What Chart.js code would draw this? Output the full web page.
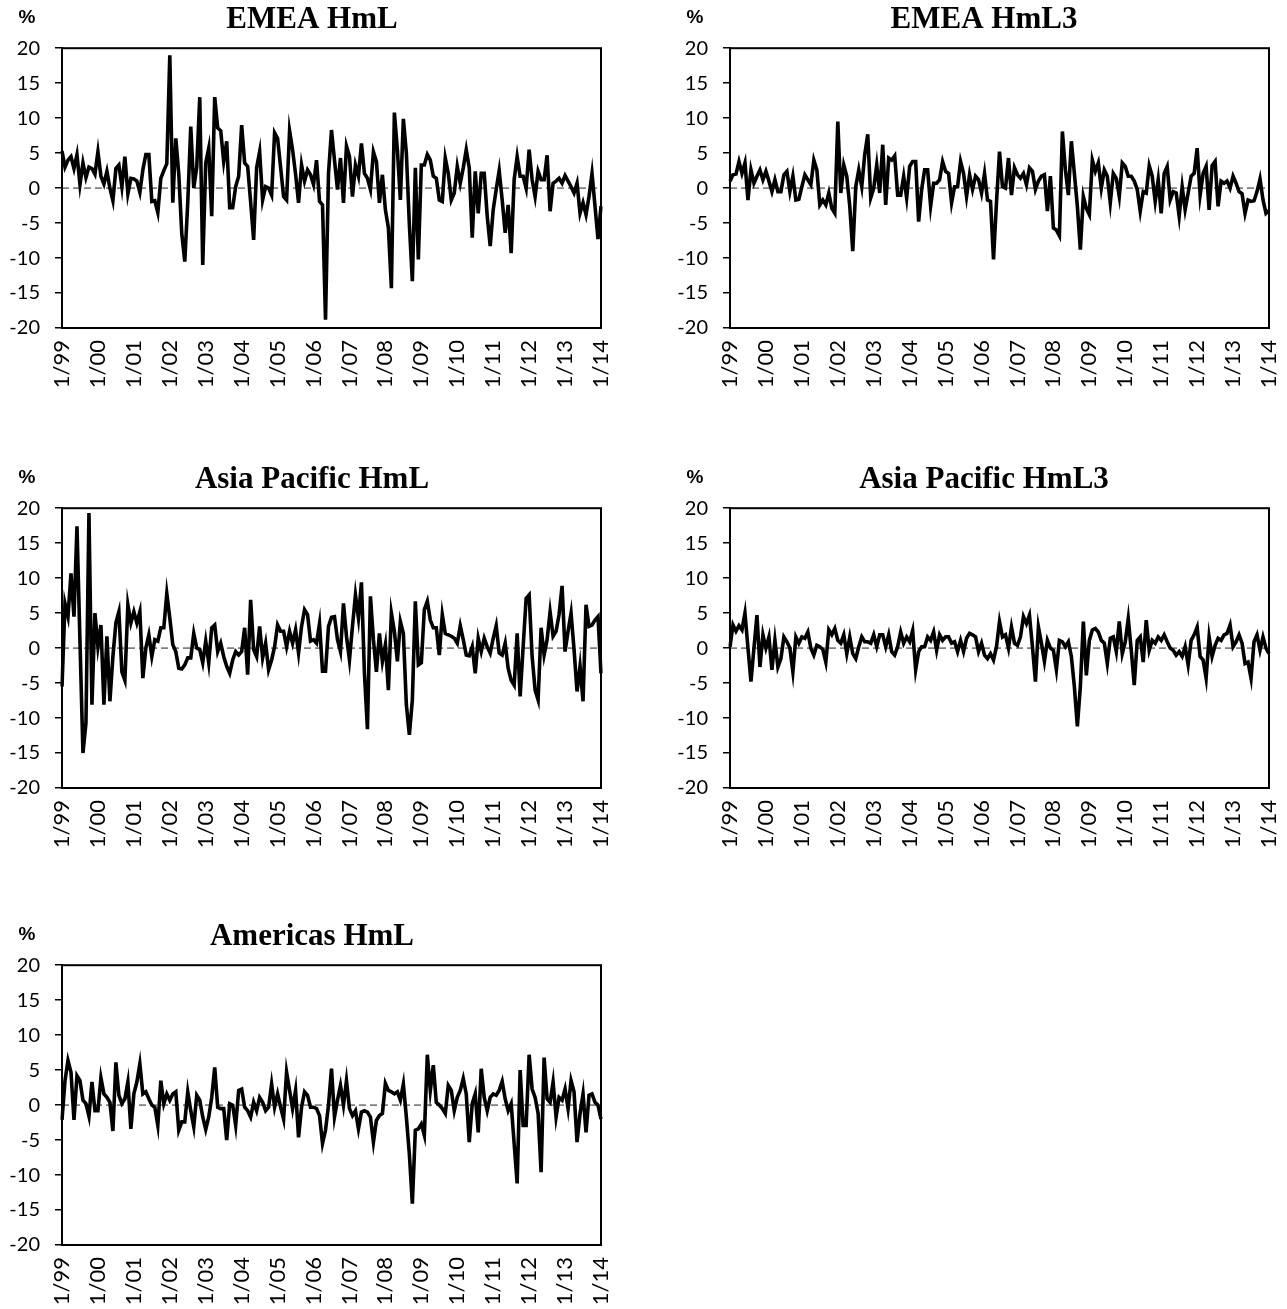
<!DOCTYPE html>
<html>
<head>
<meta charset="utf-8">
<script src="https://cdn.jsdelivr.net/npm/chart.js@4.4.1/dist/chart.umd.min.js"></script>
<style>
  body { margin: 0; background: #fff; overflow: hidden; }
  .box { position: absolute; }
</style>
</head>
<body>
<div class="box" style="left:0px;top:0px"><canvas id="c1" width="640" height="400"></canvas></div>
<div class="box" style="left:668px;top:0px"><canvas id="c2" width="632" height="400"></canvas></div>
<div class="box" style="left:0px;top:460px"><canvas id="c3" width="640" height="400"></canvas></div>
<div class="box" style="left:668px;top:460px"><canvas id="c4" width="632" height="400"></canvas></div>
<div class="box" style="left:0px;top:917px"><canvas id="c5" width="640" height="392"></canvas></div>
<script>
// tick labels on the x axis (January of each year)
var tickLabels = ['1/99','1/00','1/01','1/02','1/03','1/04','1/05','1/06','1/07','1/08','1/09','1/10','1/11','1/12','1/13','1/14'];

// monthly returns, %, 1/99 .. 1/14
var emeaHmL = [
  5.3, 3.0, 4.0, 4.5, 2.8, 4.8, 0.5, 3.6, 1.5, 3.0,
  2.8, 2.0, 5.2, 1.7, 0.6, 2.4, 0.0, -1.8, 2.8, 3.3,
  0.2, 4.5, -0.8, 1.4, 1.3, 1.0, -0.6, 2.6, 4.8, 4.8,
  -1.9, -1.8, -3.5, 1.4, 2.5, 3.5, 19.0, -2.1, 7.1, 2.0,
  -6.5, -10.5, -2.0, 8.8, 0.0, 3.0, 13.0, -11.0, 3.6, 5.7,
  -4.0, 13.0, 8.6, 8.2, 3.8, 6.7, -2.8, -2.8, 0.2, 1.7,
  9.0, 3.6, 3.1, -2.0, -7.4, 2.9, 5.2, -1.7, 0.2, 0.0,
  -1.0, 7.9, 7.1, 3.0, -1.2, -1.7, 8.2, 5.5, 2.0, -2.1,
  3.3, 1.0, 2.6, 1.9, 0.5, 4.0, -1.9, -2.4, -18.8, 2.1,
  8.3, 4.0, -0.2, 4.3, -2.1, 6.0, 4.5, -1.2, 3.3, 1.7,
  6.4, 2.1, 1.4, -0.2, 5.2, 3.8, -2.1, 1.9, -3.1, -5.7,
  -14.3, 10.8, 5.5, -1.7, 9.9, 5.0, -5.2, -13.3, 2.9, -10.2,
  3.3, 3.3, 4.8, 4.0, 1.7, 1.4, -1.7, -1.9, 4.3, 2.1,
  -1.7, -0.7, 3.1, 0.7, 2.9, 5.5, 2.9, -7.1, 2.4, -3.6,
  2.1, 2.1, -4.0, -8.3, -3.1, -0.2, 2.5, -1.7, -6.4, -2.4,
  -9.3, 1.2, 4.5, 1.7, 1.7, 0.0, 5.5, 1.2, -1.2, 2.4,
  1.2, 1.2, 4.7, -3.3, 0.7, 1.0, 1.4, 0.7, 1.8, 1.0,
  0.2, -0.7, 0.7, -3.6, -2.1, -3.8, -1.2, 2.1, -2.6, -7.3,
  -2.6
];
var emeaHmL3 = [
  1.0, 1.9, 2.0, 3.8, 2.1, 3.6, -1.7, 2.6, 0.7, 1.7,
  2.6, 1.2, 2.4, 1.0, -0.5, 1.2, -0.5, -0.5, 1.9, 2.4,
  -0.5, 1.7, -1.7, -1.6, 0.2, 1.9, 1.2, 0.5, 4.0, 2.6,
  -2.4, -1.7, -2.4, -0.7, -2.9, -3.6, 9.5, -0.7, 3.3, 1.7,
  -2.6, -9.0, 0.2, 2.6, 0.2, 4.8, 7.7, -1.4, 0.0, 3.3,
  -0.7, 6.2, -2.4, 4.3, 4.0, 4.6, -1.0, -1.0, 1.7, -1.4,
  3.1, 3.8, 3.8, -4.8, -0.2, 2.6, 2.6, -2.6, 0.7, 0.7,
  1.2, 3.8, 2.4, 2.1, -2.1, 0.2, 0.2, 3.8, 2.1, -1.2,
  1.9, -0.2, 1.7, 1.2, -0.7, 2.1, -1.7, -1.9, -10.2, -2.0,
  5.2, 0.2, 0.0, 4.3, -1.0, 2.9, 1.9, 1.4, 2.1, 0.5,
  2.9, 2.4, -0.2, 1.0, 1.7, 1.9, -3.3, 1.7, -5.7, -6.0,
  -6.8, 8.1, 2.6, -1.0, 6.7, 2.1, -2.6, -8.8, -1.2, -2.9,
  -3.8, 4.0, 2.4, 3.6, 0.0, 2.6, 1.7, -2.1, 2.1, 1.4,
  -1.2, 3.6, 3.1, 1.7, 1.7, 1.0, -0.2, -3.3, -0.5, -0.7,
  3.2, 1.7, -1.9, 1.2, -3.6, 2.1, 3.1, -1.7, -0.5, -0.7,
  -4.0, 0.2, -3.1, -0.7, 1.7, 2.1, 5.7, -1.0, 2.1, 3.1,
  -3.1, 3.2, 3.8, -2.6, 1.0, 0.7, 1.0, 0.0, 1.7, 0.7,
  -0.5, -0.8, -3.6, -1.7, -1.9, -1.8, -0.5, 1.3, -1.7, -3.6,
  -3.2
];
var asiaHmL = [
  -5.5, 6.4, 4.5, 10.7, 4.5, 17.4, 1.0, -15.0, -10.7, 19.3,
  -8.1, 5.0, 0.2, 3.3, -8.1, 1.7, -7.6, -1.2, 3.6, 5.2,
  -3.4, -4.6, 6.2, 3.6, 5.2, 3.6, 5.2, -4.3, 0.0, 1.9,
  -1.2, 1.2, 1.0, 2.9, 2.9, 7.8, 4.3, 0.5, -0.5, -2.9,
  -3.0, -2.4, -1.4, -1.4, 2.1, 0.0, -0.2, -2.1, 1.0, -2.1,
  2.9, 3.3, -0.5, 0.7, -1.2, -2.6, -3.6, -1.7, -0.5, -1.0,
  -0.5, 2.9, -3.8, 6.9, -0.2, -1.2, 3.1, -1.4, 0.7, -3.1,
  -1.7, 0.2, 3.3, 2.4, 2.4, 0.2, 2.4, 0.7, 2.6, -0.7,
  3.1, 5.5, 4.8, 1.0, 1.2, 0.7, 3.5, -3.3, -3.3, 3.1,
  4.4, 4.5, 1.2, -0.5, 6.4, 1.7, -1.7, 3.1, 7.6, 4.3,
  9.4, -3.6, -11.6, 7.4, 1.2, -3.4, 2.1, -1.9, 0.5, -6.0,
  5.0, 2.4, -1.9, 3.8, 2.1, -8.1, -12.4, -7.4, 6.7, -2.4,
  -2.1, 5.5, 6.7, 4.0, 2.9, 2.9, -1.0, 4.8, 2.1, 1.9,
  1.7, 1.4, 0.7, 3.2, 1.2, -1.0, -1.1, 0.2, -3.6, 1.4,
  -0.5, 1.4, 0.2, -0.7, 1.4, 3.2, -0.7, -1.0, 0.7, -2.9,
  -4.6, -5.3, 2.1, -6.9, 0.2, 7.1, 7.6, -1.2, -6.0, -7.4,
  2.9, -1.0, 1.2, 5.2, 1.7, 2.4, 4.8, 8.9, -0.5, 2.4,
  5.0, -0.2, -6.2, -2.6, -7.6, 6.2, 3.1, 3.3, 4.0, 4.5,
  -3.6
];
var asiaHmL3 = [
  0.2, 3.3, 2.4, 3.2, 2.6, 5.0, 0.0, -4.8, 0.0, 4.7,
  -2.7, 1.9, 0.0, 1.6, -3.1, 1.1, -2.7, -1.5, 1.6, 0.9,
  0.0, -3.4, 1.6, 0.7, 1.6, 1.4, 2.3, 0.0, -1.0, 0.4,
  0.2, -0.2, -2.0, 2.6, 1.9, 2.8, 1.1, 0.7, 1.9, -0.8,
  1.6, -0.8, -1.5, 0.2, 1.6, 0.9, 0.9, 0.7, 1.9, 0.2,
  1.9, 1.9, 0.2, 1.9, -0.5, -1.0, 0.2, 2.3, 0.7, 1.6,
  0.9, 2.5, -3.1, -0.5, 0.2, 0.2, 1.6, 1.1, 2.3, -0.3,
  1.9, 1.1, 1.6, 1.6, 0.7, 0.9, -0.5, 1.1, -0.5, 1.4,
  2.1, 1.9, 1.6, -0.5, 0.7, -1.0, -1.5, -0.8, -1.7, 0.2,
  3.8, 1.6, 1.9, 0.0, 3.0, 0.7, 0.4, 1.6, 4.5, 3.5,
  4.7, 0.2, -4.8, 3.0, 0.7, -1.9, 1.1, 0.0, -0.3, -3.1,
  1.1, 0.9, 0.2, 0.9, -1.2, -5.5, -11.2, -5.5, 3.8, -3.9,
  1.1, 2.6, 2.8, 2.3, 1.1, 0.7, -2.2, 1.4, 1.6, -0.5,
  3.8, -0.8, 0.9, 4.2, -0.3, -5.3, 1.1, 1.6, -2.0, 4.0,
  -0.3, 1.1, 0.7, 1.6, 1.1, 1.9, 0.9, 0.0, -0.3, -1.0,
  -0.5, -1.2, 0.2, -2.4, 1.1, 1.9, 3.0, -1.2, -1.7, -4.3,
  1.6, -1.2, 0.4, 1.4, 1.1, 1.9, 2.1, 3.3, 0.2, 0.9,
  1.9, 0.7, -2.2, -2.0, -4.3, 0.9, 1.9, -0.3, 1.6, 0.0,
  -0.8
];
var americasHmL = [
  -2.1, 3.5, 6.4, 4.7, -2.1, 4.2, 3.5, 0.7, 0.2, -1.6,
  3.3, -0.8, -0.8, 3.9, 1.6, 1.1, 0.4, -3.7, 6.1, 1.4,
  0.2, 0.9, 3.3, -3.4, 1.6, 3.3, 5.9, 1.6, 1.9, 0.9,
  0.0, -0.3, -2.9, 3.5, 0.2, 1.6, 0.7, 1.6, 1.9, -3.6,
  -2.4, -2.4, 1.9, -0.8, -3.1, 1.4, 0.7, -1.7, -3.5, -1.7,
  1.1, 5.4, -0.3, -0.5, -0.5, -5.0, 0.2, 0.0, -2.9, 2.1,
  2.3, -0.3, -0.8, -1.7, 0.4, -0.8, 1.1, 0.4, -0.8, -0.3,
  3.0, -0.3, 1.6, -0.3, -2.0, 4.7, 2.1, -0.5, 2.1, -4.6,
  -0.3, 1.9, 1.4, -0.3, -0.3, -0.5, -1.5, -5.5, -3.6, 0.0,
  5.2, -1.7, 0.7, 2.8, 0.0, 3.5, -0.5, -1.5, -0.8, -3.4,
  -1.0, -0.8, -1.0, -1.7, -5.3, -2.2, -1.5, -1.2, 3.1, 2.1,
  1.9, 1.6, 1.9, 0.7, 3.0, -1.7, -7.0, -14.1, -3.6, -3.4,
  -2.7, -4.3, 7.2, 2.1, 5.7, 0.4, 0.0, -0.5, -1.2, 2.8,
  2.1, -0.8, 1.1, 2.1, 3.8, 1.6, -5.3, 0.2, 1.6, -3.9,
  5.2, 1.1, -0.8, 1.1, 1.6, 1.4, 2.1, 3.4, 0.9, -0.8,
  0.2, -5.5, -11.2, 5.0, -2.9, -2.9, 7.2, 2.3, 1.1, -1.2,
  -9.6, 6.8, 0.9, 0.4, 3.3, -1.7, 1.1, 0.7, 2.3, -0.5,
  3.5, 1.9, -5.3, -1.2, 1.6, -3.9, 1.4, 1.6, 0.4, 0.0,
  -2.0
];

// one category per month, labelled only in January via tickLabels
var months = [];
for (var y = 0; y < tickLabels.length; y++) {
  for (var m = 1; m <= 12; m++) {
    if (y === tickLabels.length - 1 && m > 1) break;
    months.push(m + '/' + tickLabels[y].split('/')[1]);
  }
}

// dashed zero line, plot frame and the "%" unit label
var framePlugin = {
  id: 'framePlugin',
  beforeDatasetsDraw: function(chart) {
    var a = chart.chartArea, ctx = chart.ctx;
    var y0 = chart.scales.y.getPixelForValue(0);
    ctx.save();
    ctx.strokeStyle = '#808080';
    ctx.lineWidth = 1.6;
    ctx.setLineDash([7, 4]);
    ctx.beginPath();
    ctx.moveTo(a.left, y0);
    ctx.lineTo(a.right, y0);
    ctx.stroke();
    ctx.restore();
  },
  afterDatasetsDraw: function(chart) {
    var a = chart.chartArea, ctx = chart.ctx;
    ctx.save();
    ctx.strokeStyle = '#000';
    ctx.lineWidth = 2;
    ctx.strokeRect(a.left, a.top, a.right - a.left, a.bottom - a.top);
    ctx.fillStyle = '#000';
    ctx.font = 'bold 19px "Liberation Sans"';
    ctx.textAlign = 'center';
    ctx.textBaseline = 'middle';
    ctx.fillText('%', a.left - 35, a.top - 30);
    ctx.restore();
  }
};

// rightGap: empty space right of the plot so the title centres like the original
function makeChart(id, title, values, padRight, rightGap, xHeight) {
  return new Chart(document.getElementById(id), {
    type: 'line',
    data: {
      labels: months,
      datasets: [{
        data: values,
        borderColor: '#000',
        borderWidth: 3.6,
        pointRadius: 0,
        tension: 0,
        fill: false
      }]
    },
    options: {
      responsive: false,
      animation: false,
      events: [],
      layout: { padding: { left: 0, right: padRight, top: 0, bottom: 0 } },
      plugins: {
        legend: { display: false },
        tooltip: { enabled: false },
        title: {
          display: true,
          text: title,
          color: '#000',
          font: { family: 'Liberation Serif', size: 31, weight: 'bold' },
          padding: { top: 1, bottom: 10 }
        }
      },
      scales: {
        x: {
          afterFit: function(s) { s.height = xHeight; },
          ticks: {
            autoSkip: false,
            minRotation: 90,
            maxRotation: 90,
            padding: 4,
            color: '#000',
            font: { family: 'Lato', size: 22 },
            callback: function(v, i) { return i % 12 === 0 ? tickLabels[i / 12] : ''; }
          },
          grid: { display: false },
          border: { color: '#000', width: 2 }
        },
        y: {
          min: -20,
          max: 20,
          afterFit: function(s) { s.width = 62; },
          ticks: {
            stepSize: 5,
            padding: 15,
            color: '#000',
            font: { family: 'Lato', size: 20 }
          },
          grid: { drawOnChartArea: false, drawTicks: true, tickLength: 7, color: '#000', lineWidth: 1.5 },
          border: { color: '#000', width: 2 }
        },
        gap: {
          position: 'right',
          afterFit: function(s) { s.width = rightGap; },
          ticks: { display: false },
          grid: { display: false },
          border: { display: false }
        }
      }
    },
    plugins: [framePlugin]
  });
}

makeChart('c1', 'EMEA HmL', emeaHmL, 16, 23, 72);
makeChart('c2', 'EMEA HmL3', emeaHmL3, 0, 31, 72);
makeChart('c3', 'Asia Pacific HmL', asiaHmL, 16, 23, 72);
makeChart('c4', 'Asia Pacific HmL3', asiaHmL3, 0, 31, 72);
makeChart('c5', 'Americas HmL', americasHmL, 16, 23, 64);
</script>
</body>
</html>
